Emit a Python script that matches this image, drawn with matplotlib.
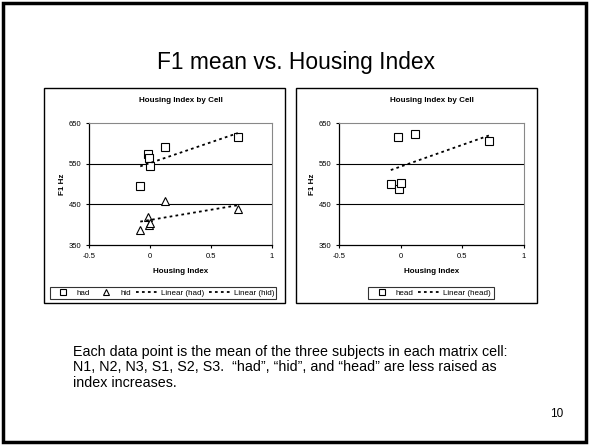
#!/usr/bin/env python
# F1 mean vs. Housing Index slide, two Excel-style scatter charts with linear trendlines
import numpy as np
import matplotlib
matplotlib.use("Agg")
import matplotlib.pyplot as plt
from matplotlib.patches import Rectangle
from matplotlib.lines import Line2D

plt.rcParams['font.family'] = ['Liberation Sans', 'DejaVu Sans']

# data
housing_index = [-0.08, -0.02, -0.01, 0.0, 0.12, 0.72]
had = [494, 573, 565, 545, 591, 616]
hid = [387, 418, 400, 405, 457, 439]
head = [500, 616, 487, 503, 623, 606]

x_ticks = [-0.5, 0, 0.5, 1]
x_tick_labels = ["-0.5", "0", "0.5", "1"]
y_ticks = [350, 450, 550, 650]

W, H = 589, 445
fig = plt.figure(figsize=(W / 100, H / 100), dpi=100)


def fbox(l, t, r, b):
    # pixel box -> figure fraction [left, bottom, width, height]
    return [l / W, 1 - b / H, (r - l) / W, (b - t) / H]


def frame(l, t, r, b, lw):
    x0, y0, w, h = fbox(l, t, r, b)
    fig.patches.append(Rectangle((x0, y0), w, h, transform=fig.transFigure,
                                 fill=False, edgecolor="black", linewidth=lw))


# slide frame
frame(3, 3, 586, 442, 2.5)
fig.text(296 / W, 1 - 63 / H, "F1 mean vs. Housing Index", ha="center", va="center", fontsize=16.4)

DOTS = (0, (1.5, 1.8))


def trend(ax, x, y, lw):
    x = np.array(x)
    k, c = np.polyfit(x, y, 1)
    xs = np.array([x.min(), x.max()])
    ax.plot(xs, k * xs + c, color="black", linestyle=DOTS, linewidth=lw)


def chart(box, plot, series, legend_items, legend_pos):
    l, t, r, b = box
    frame(l, t, r, b, 1.0)
    ax = fig.add_axes(fbox(*plot))
    for vals, mk in series:
        ax.plot(housing_index, vals, linestyle="none", marker=mk, markersize=5.5,
                markerfacecolor="white", markeredgecolor="black", markeredgewidth=0.8)
    for vals, mk in series:
        trend(ax, housing_index, vals, 1.3)
    ax.set_xlim(-0.5, 1)
    ax.set_ylim(350, 650)
    ax.set_xticks(x_ticks)
    ax.set_xticklabels(x_tick_labels)
    ax.set_yticks(y_ticks)
    ax.tick_params(labelsize=5.5, length=2.5, width=0.8, pad=3)
    for yv in [450, 550]:
        ax.axhline(yv, color="black", linewidth=0.8, zorder=0)
    ax.spines["top"].set_color("#888888")
    ax.spines["right"].set_color("#888888")
    ax.spines["left"].set_linewidth(0.9)
    ax.spines["bottom"].set_linewidth(0.9)
    ax.set_xlabel("Housing Index", fontsize=5.8, fontweight="bold", labelpad=6)
    ax.set_ylabel("F1 Hz", fontsize=5.8, fontweight="bold", labelpad=2)
    cx = (plot[0] + plot[2]) / 2
    fig.text(cx / W, 1 - 100 / H, "Housing Index by Cell", ha="center", va="center",
             fontsize=5.8, fontweight="bold")
    handles = []
    labels = []
    for lab, mk in legend_items:
        if mk:
            handles.append(Line2D([], [], linestyle="none", marker=mk, markersize=4,
                                  markerfacecolor="white", markeredgecolor="black", markeredgewidth=0.8))
        else:
            handles.append(Line2D([], [], color="black", linestyle=DOTS, linewidth=1.3))
        labels.append(lab)
    leg = fig.legend(handles, labels, ncol=len(labels), loc="center",
                     bbox_to_anchor=(legend_pos[0] / W, 1 - legend_pos[1] / H),
                     fontsize=5.8, frameon=True, fancybox=False, handlelength=2.8,
                     handletextpad=0.3, columnspacing=0.6, borderpad=0.3)
    leg.get_frame().set_edgecolor("black")
    leg.get_frame().set_linewidth(0.8)
    return ax


chart((44, 88, 285, 303), (89, 123, 272, 245),
      [(had, "s"), (hid, "^")],
      [("had", "s"), ("hid", "^"), ("Linear (had)", None), ("Linear (hid)", None)],
      (163, 293))
chart((296, 88, 537, 303), (339, 123, 524, 245),
      [(head, "s")],
      [("head", "s"), ("Linear (head)", None)],
      (431, 293))

fig.text(73 / W, 1 - 345 / H,
         "Each data point is the mean of the three subjects in each matrix cell:\n"
         "N1, N2, N3, S1, S2, S3.  \u201chad\u201d, \u201chid\u201d, and \u201chead\u201d are less raised as\n"
         "index increases.",
         ha="left", va="top", fontsize=10.3, linespacing=1.12)
fig.text(557 / W, 1 - 414 / H, "10", ha="center", va="center", fontsize=8.5)

fig.savefig("out.png", dpi=100)
